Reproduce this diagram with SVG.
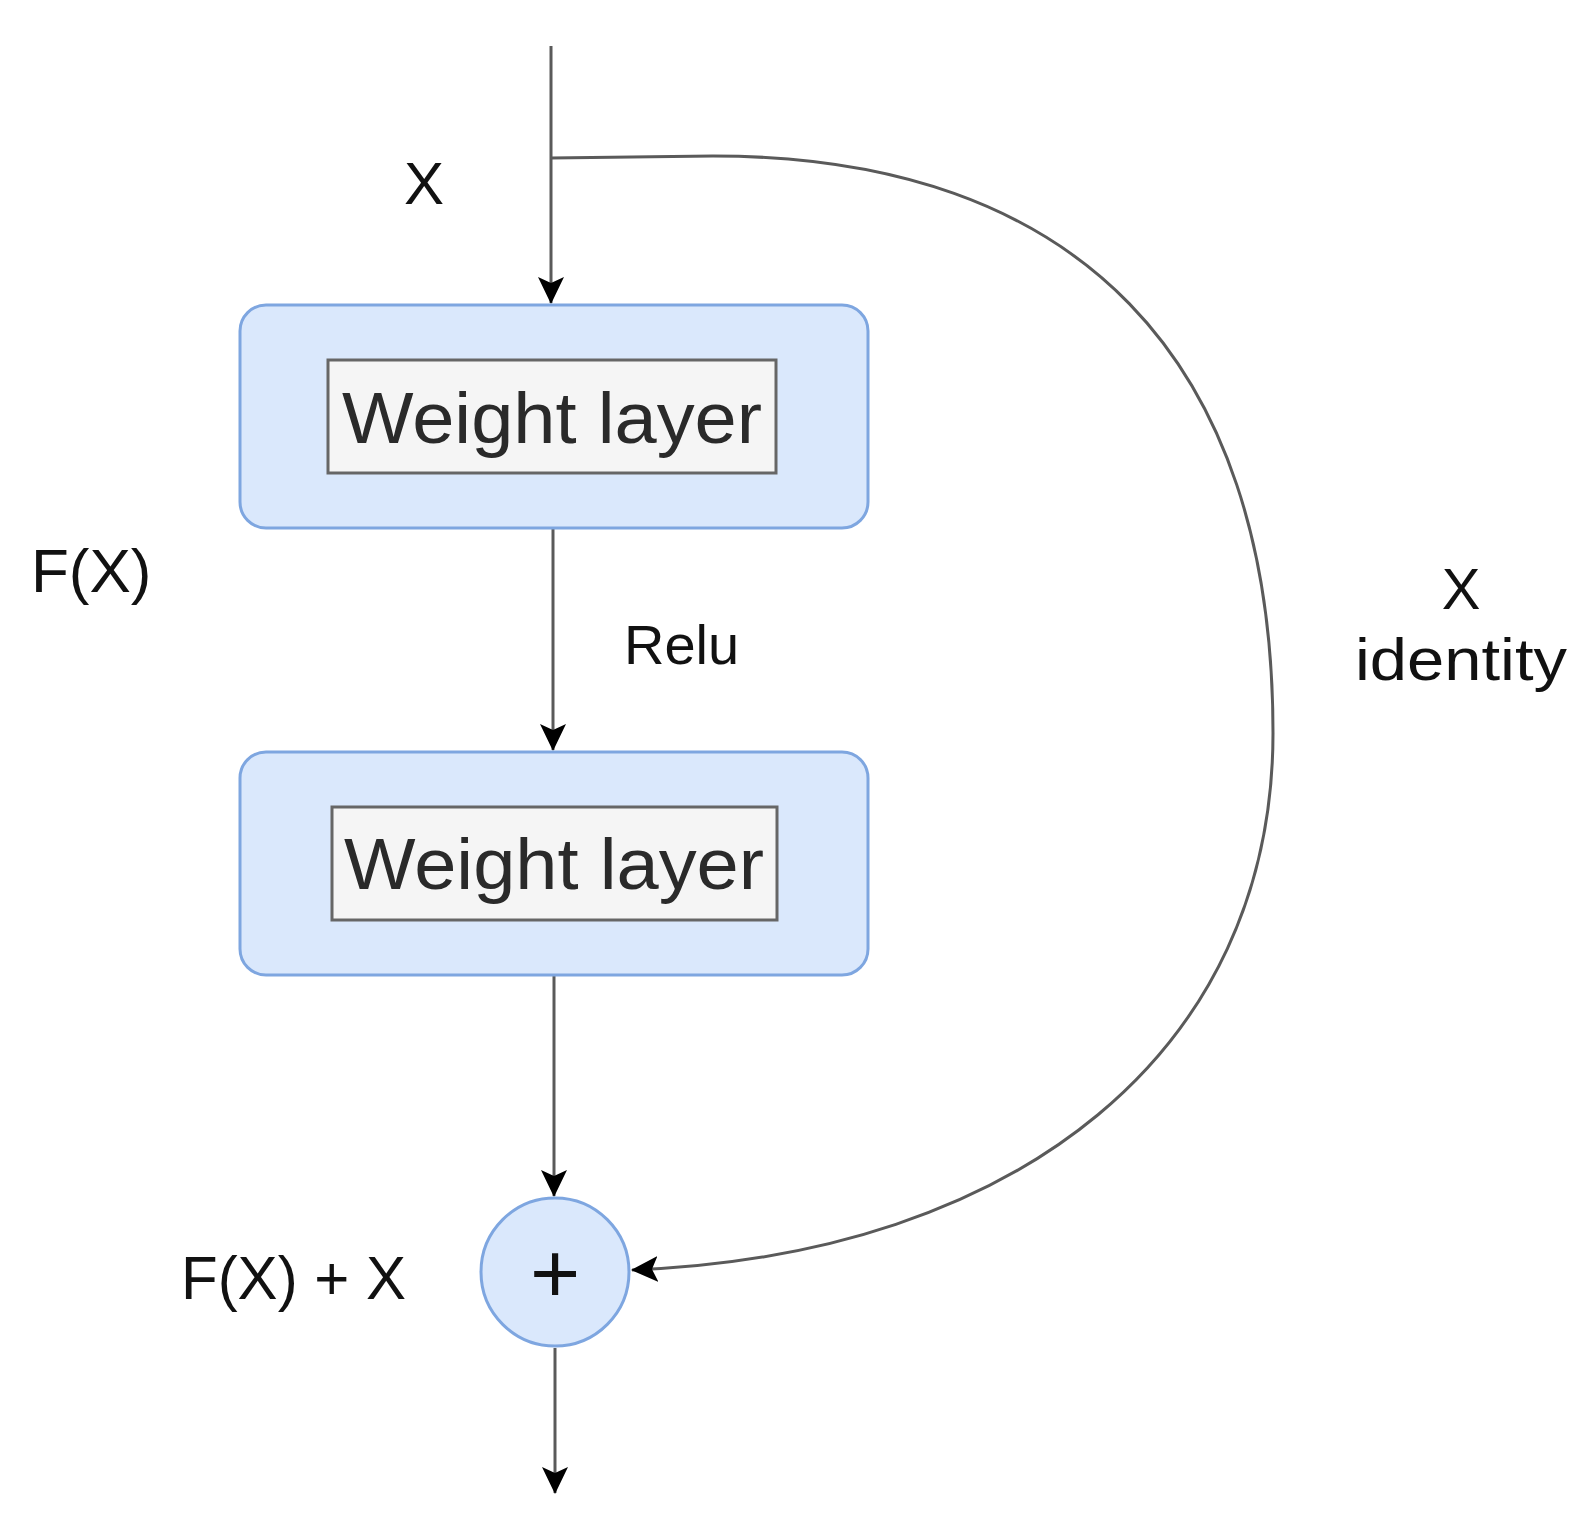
<svg xmlns="http://www.w3.org/2000/svg" width="1596" height="1525" viewBox="0 0 1596 1525">
<style>
.outer{fill:#dae8fc;stroke:#7ea6e0;stroke-width:3}
.inner{fill:#f5f5f5;stroke:#666666;stroke-width:3}
.edge{fill:none;stroke:#5a5a5a;stroke-width:3}
.lbl{font-family:"Liberation Sans",Arial,sans-serif;fill:#111111}
.wl{font-family:"Liberation Sans",Arial,sans-serif;fill:#2a2a2a;font-size:72px;text-anchor:middle}
</style>
<defs>
<marker id="arr" markerUnits="userSpaceOnUse" viewBox="0 0 27 26" refX="26" refY="13" markerWidth="27" markerHeight="26" orient="auto">
<path d="M0,0 L27,13 L0,26 L6,13 Z" fill="#000000"/>
</marker>
</defs>
<rect width="1596" height="1525" fill="#ffffff"/>
<g id="connectors">
<line class="edge" x1="551" y1="46" x2="551" y2="303" marker-end="url(#arr)"/>
<line class="edge" x1="553" y1="528" x2="553" y2="750" marker-end="url(#arr)"/>
<line class="edge" x1="554" y1="975" x2="554" y2="1196" marker-end="url(#arr)"/>
<line class="edge" x1="555" y1="1348" x2="555" y2="1493" marker-end="url(#arr)"/>
<path class="edge" d="M551 158 L713 156 C1077 156 1273 358 1273 733 C1273 1050 1020 1255 632 1270" marker-end="url(#arr)"/>
</g>
<g id="weight1">
<rect class="outer" x="240" y="305" width="628" height="223" rx="26" ry="26"/>
<rect class="inner" x="328" y="360" width="448" height="113"/>
<text class="wl" x="552" y="443" textLength="420" lengthAdjust="spacingAndGlyphs">Weight layer</text>
</g>
<g id="weight2">
<rect class="outer" x="240" y="752" width="628" height="223" rx="26" ry="26"/>
<rect class="inner" x="332" y="807" width="445" height="113"/>
<text class="wl" x="554" y="889" textLength="420" lengthAdjust="spacingAndGlyphs">Weight layer</text>
</g>
<g id="add">
<circle cx="555" cy="1272" r="74" fill="#dae8fc" stroke="#7ea6e0" stroke-width="3"/>
<text class="lbl" x="555" y="1303" font-size="86" text-anchor="middle">+</text>
</g>
<g id="labels">
<text class="lbl" x="424" y="204" font-size="60" text-anchor="middle">X</text>
<text class="lbl" x="31" y="592" font-size="62">F(X)</text>
<text class="lbl" x="624" y="664" font-size="56">Relu</text>
<text class="lbl" x="1461" y="609" font-size="58" text-anchor="middle">X</text>
<text class="lbl" x="1461" y="680" font-size="60" text-anchor="middle" textLength="212" lengthAdjust="spacingAndGlyphs">identity</text>
<text class="lbl" x="181" y="1299" font-size="62" textLength="225" lengthAdjust="spacingAndGlyphs">F(X) + X</text>
</g>
</svg>
